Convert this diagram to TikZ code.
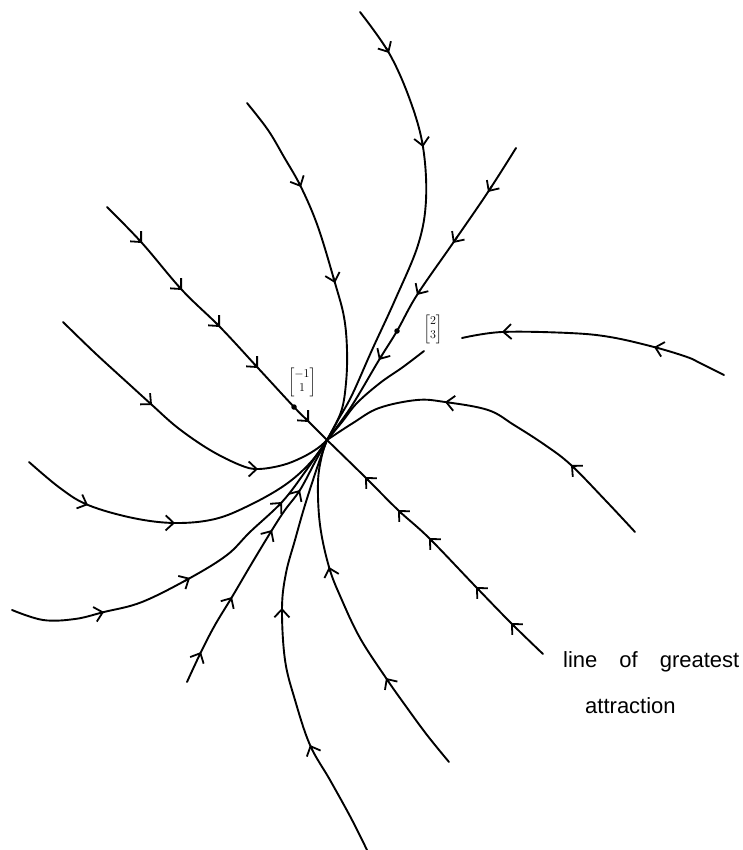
\documentclass[tikz,border=0pt]{standalone}
\usepackage{amsmath}
\usepackage{fontspec}
\setmainfont{Liberation Sans}
\usetikzlibrary{arrows.meta}
\newcommand\flowtip[4]{\draw[tipline] ({#1-0.06*(#3)},{#2-0.06*(#4)}) -- (#1,#2);}
\begin{document}
\begin{tikzpicture}[x=1pt,y=-1pt,
  traj/.style={line width=1.9pt, line cap=round, line join=round},
  tipline/.style={line width=1.8pt, line cap=round, -{Straight Barb[length=8pt,width=15pt]}},
  dot/.style={circle,fill,inner sep=0pt,minimum size=5.5pt},
  vec/.style={inner sep=0pt,font=\fontsize{12}{14}\selectfont},
  lbl/.style={anchor=base west,inner sep=0pt,font=\fontsize{22}{26}\selectfont}]
\useasboundingbox (0,0) rectangle (743,850);
\coordinate (C) at (327,440);
% upper trajectories
\draw[traj] plot[smooth,tension=0.6] coordinates {(360,12) (389,53) (410,100) (423,147) (426,200) (418,245) (395,300) (372,350) (352,395) (338,420) (327,440)};
\flowtip{389}{53}{50}{88}
\flowtip{423}{147}{16}{100}
\draw[traj] plot[smooth,tension=0.6] coordinates {(247,103) (268,130) (284,157) (301,187) (318,227) (335,283) (344,317) (347,350) (346,383) (341,412) (327,440)};
\flowtip{301}{187}{34}{70}
\flowtip{335}{283}{26}{90}
\draw[traj] plot[smooth,tension=0.6] coordinates {(516,148) (488,192) (453,243) (417,295) (397,331) (379,360) (351,407) (327,440)};
\flowtip{488}{192}{-63}{95}
\flowtip{453}{243}{-71}{103}
\flowtip{417}{295}{-56}{88}
\flowtip{379}{360}{-46}{76}
% line of greatest attraction
\draw[traj] plot[smooth,tension=0.6] coordinates {(107,207) (142,243) (182,290) (220,327) (258,368) (294,407) (309,422) (327,440)};
\flowtip{142}{243}{60}{64}
\flowtip{182}{290}{60}{64}
\flowtip{220}{327}{60}{64}
\flowtip{258}{368}{60}{64}
\flowtip{309}{422}{60}{64}
\draw[traj] plot[smooth,tension=0.6] coordinates {(543,654) (511,623) (476,587) (429,538) (398,510) (365,477) (327,440)};
\flowtip{511}{623}{-60}{-60}
\flowtip{476}{587}{-60}{-60}
\flowtip{429}{538}{-60}{-60}
\flowtip{398}{510}{-60}{-60}
\flowtip{365}{477}{-60}{-60}
\draw[traj] plot[smooth,tension=0.6] coordinates {(63,322) (95,353) (130,385) (152,405) (178,428) (210,450) (240,465) (258,469) (283,465) (303,457) (318,448) (327,440)};
\flowtip{152}{405}{48}{43}
\flowtip{258}{469}{43}{0}
% right trajectories
\draw[traj] plot[smooth,tension=0.6] coordinates {(724,375) (700,363) (687,357) (654,347) (610,337) (569,333) (502,332) (462,338)};
\flowtip{654}{347}{-77}{-20}
\flowtip{502}{332}{-107}{5}
\draw[traj] plot[smooth,tension=0.6] coordinates {(424,351) (403,367) (380,383) (357,403) (342,422) (327,440)};
\draw[traj] plot[smooth,tension=0.6] coordinates {(635,532) (607,502) (571,465) (545,445) (514,425) (488,410) (445,402) (417,400) (379,408) (353,423) (327,440)};
\flowtip{571}{465}{-62}{-57}
\flowtip{445}{402}{-71}{-10}
% lower trajectories
\draw[traj] plot[smooth,tension=0.6] coordinates {(29,462) (60,488) (88,505) (133,518) (175,523) (215,519) (250,505) (285,485) (310,463) (327,440)};
\flowtip{88}{505}{73}{30}
\flowtip{175}{523}{82}{1}
\draw[traj] plot[smooth,tension=0.6] coordinates {(12,610) (43,620) (75,619) (104,612) (142,602) (190,578) (227,555) (250,532) (282,502) (305,472) (327,440)};
\flowtip{104}{612}{67}{-17}
\flowtip{190}{578}{85}{-47}
\flowtip{282}{502}{55}{-60}
\draw[traj] plot[smooth,tension=0.6] coordinates {(187,682) (201,652) (215,625) (232,597) (252,563) (272,530) (285,510) (300,490) (315,462) (327,440)};
\flowtip{201}{652}{28}{-57}
\flowtip{232}{597}{37}{-62}
\flowtip{272}{530}{33}{-53}
\flowtip{300}{490}{30}{-48}
\draw[traj] plot[smooth,tension=0.6] coordinates {(367,850) (351,818) (330,780) (310,745) (295,700) (285,660) (282,608) (286,573) (295,540) (305,505) (318,465) (327,440)};
\flowtip{310}{745}{-35}{-80}
\flowtip{282}{608}{1}{-87}
\draw[traj] plot[smooth,tension=0.6] coordinates {(449,762) (427,735) (405,705) (386,678) (360,638) (341,598) (329,567) (320,525) (318,482) (322,455) (327,440)};
\flowtip{386}{678}{-45}{-67}
\flowtip{329}{567}{-21}{-73}
% eigenvector points and labels
\node[dot] (p1) at (294,407) {};
\node[dot] (p2) at (397,331) {};
\node[vec] (v1) at (302,382) {$\begin{bmatrix}-1\\1\end{bmatrix}$};
\node[vec] (v2) at (433,329) {$\begin{bmatrix}2\\3\end{bmatrix}$};
\node[lbl] (t1) at (563,667) {line\hspace{22pt}of\hspace{22pt}greatest};
\node[lbl] (t2) at (585,713) {attraction};
\end{tikzpicture}
\end{document}
